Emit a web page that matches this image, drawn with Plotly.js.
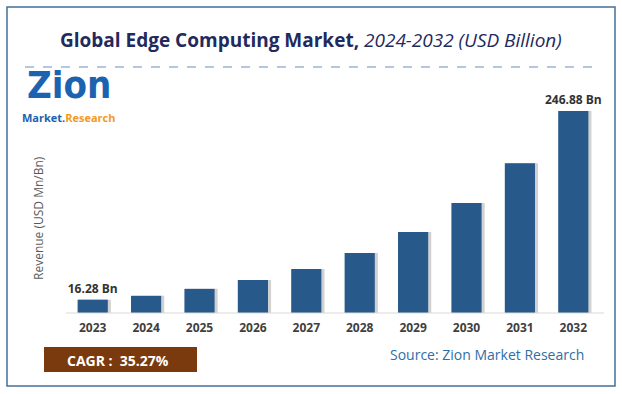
<!DOCTYPE html>
<html><head><meta charset="utf-8">
<script src="https://cdn.plot.ly/plotly-3.0.1.min.js"></script>
<style>html,body{margin:0;padding:0;background:#fff}#chart{width:622px;height:394px}</style>
</head><body><div id="chart"></div>
<script>
const years = ['2023','2024','2025','2026','2027','2028','2029','2030','2031','2032'];
const revenue = [16.28, 21.0, 29.5, 40.3, 53.8, 73.3, 99.0, 134.5, 183.0, 246.88];
const labelYears = ['2023','2032'];

const W = 622, H = 394;
const font = 'Open Sans, sans-serif';

const barText = years.map((yr,i)=> labelYears.includes(yr) ? revenue[i].toFixed(2)+' Bn' : '');

const shadow = {
  type:'bar', x: years, y: revenue, width:0.6, offset:-0.26,
  marker:{color:'rgba(90,90,90,0.28)', line:{width:0}},
  hoverinfo:'skip', showlegend:false
};
const bars = {
  type:'bar', x: years, y: revenue, width:0.565,
  marker:{color:'#27598A', line:{width:0}},
  text: barText, textposition:'outside', cliponaxis:false, constraintext:'none',
  textfont:{family:font, size:12, color:'#333333', weight:'bold'},
  showlegend:false
};

const m = {l:66, r:22, t:100, b:81};
const pw = W - m.l - m.r, ph = H - m.t - m.b;
function px(x){ return (x - m.l)/pw; }
function py(y){ return (H - m.b - y)/ph; }
function note(x, y, text, f, extra){
  return Object.assign({xref:'paper', yref:'paper', x:px(x), y:py(y), xanchor:'center', yanchor:'middle',
    showarrow:false, text, font:f}, extra||{});
}

const annotations = [
  note(311, 40, '<b>Global Edge Computing Market,</b> <i>2024-2032 (USD Billion)</i>',
       {family:font, size:19, color:'#1F2A5E'}),
  note(118, 360, '<b>CAGR :  35.27%</b>', {family:font, size:14, color:'#ffffff'}),
  note(487, 354, 'Source: Zion Market Research', {family:font, size:14, color:'#2F6EA8'}),
  note(69, 85, '<b>Zion</b>', {family:'DejaVu Sans Condensed, DejaVu Sans, sans-serif', size:38, color:'#1B62B0'}),
  note(69, 117, '<b><span style="color:#1B62B0">Market.</span><span style="color:#F39A22">Research</span></b>',
       {family:font, size:11, color:'#1B62B0'}),
  note(38, 218, 'Revenue (USD Mn/Bn)', {family:font, size:12, color:'#595959'}, {textangle:-90})
];

const shapes = [
  {type:'rect', xref:'paper', yref:'paper', x0:px(7), x1:px(615), y0:py(7), y1:py(386),
   line:{color:'#41709C', width:1.5}, fillcolor:'rgba(0,0,0,0)', layer:'below'},
  {type:'line', xref:'paper', yref:'paper', x0:px(25), x1:px(598), y0:py(67), y1:py(67),
   line:{color:'#6A8FC0', width:1, dash:'dash'}},
  {type:'rect', xref:'paper', yref:'paper', x0:px(44), x1:px(197), y0:py(347), y1:py(372),
   line:{width:0}, fillcolor:'#7B3A0E', layer:'below'},
  {type:'line', xref:'paper', yref:'paper', x0:0, x1:px(604), y0:0, y1:0,
   line:{color:'#D9D9D9', width:1.2}}
];

const layout = {
  width:W, height:H, margin:m, paper_bgcolor:'#fff', plot_bgcolor:'rgba(0,0,0,0)',
  barmode:'overlay',
  xaxis:{type:'category', range:[-0.5,9.5], showgrid:false, zeroline:false, showline:false,
    ticks:'', ticklabelstandoff:6, tickfont:{family:font, size:12, color:'#404040', weight:'bold'},
    automargin:false},
  yaxis:{range:[0,260.4], showgrid:false, zeroline:false, showline:false, showticklabels:false,
    ticks:'', automargin:false},
  annotations, shapes
};

Plotly.newPlot('chart', [shadow, bars], layout, {staticPlot:true, displayModeBar:false});
</script></body></html>
